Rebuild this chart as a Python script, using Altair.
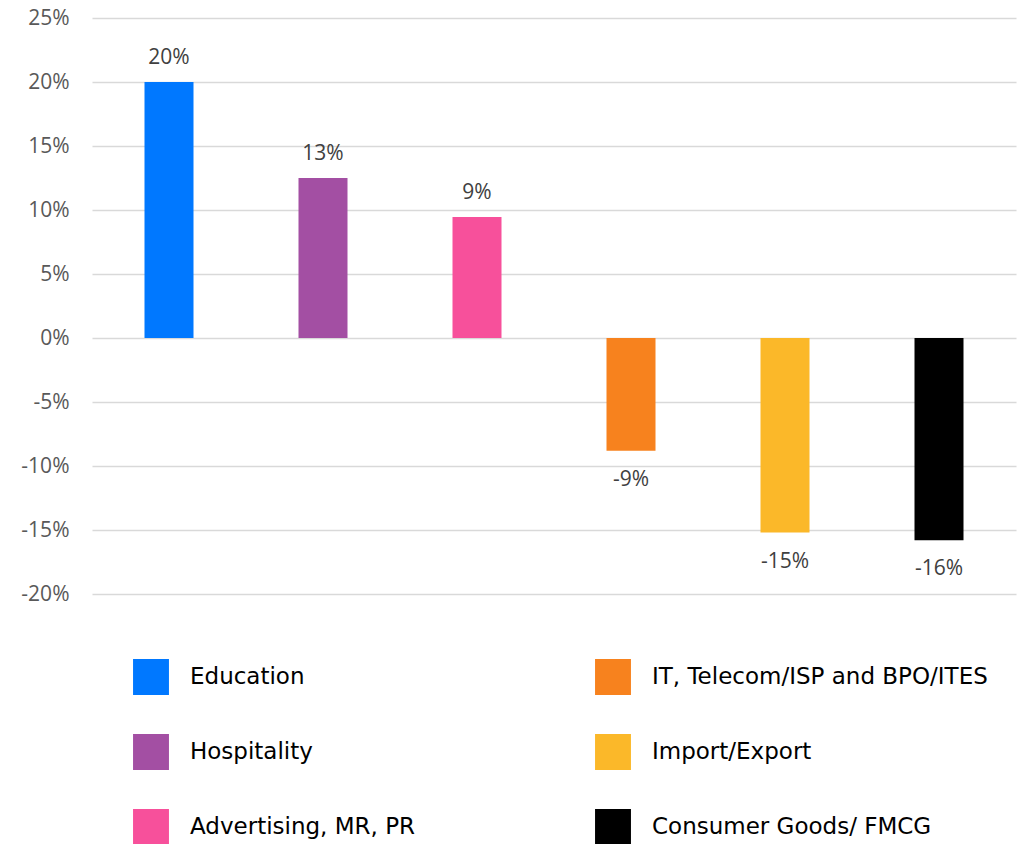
import altair as alt
import pandas as pd

categories = ["Education", "Hospitality", "Advertising, MR, PR",
              "IT, Telecom/ISP and BPO/ITES", "Import/Export", "Consumer Goods/ FMCG"]
values = [0.200, 0.125, 0.0945, -0.088, -0.152, -0.158]
labels = ["20%", "13%", "9%", "-9%", "-15%", "-16%"]
colors = ["#0078FF", "#A34FA3", "#F7509B", "#F7821E", "#FBB829", "#000000"]
y_ticks = [-0.20, -0.15, -0.10, -0.05, 0.0, 0.05, 0.10, 0.15, 0.20, 0.25]

df = pd.DataFrame({"cat": categories, "val": values, "lab": labels})

x_enc = alt.X("cat:N", sort=categories, axis=None,
              scale=alt.Scale(paddingInner=0.682, paddingOuter=0.341))
y_enc = alt.Y("val:Q",
              scale=alt.Scale(domain=[-0.20, 0.25], nice=False, zero=True),
              axis=alt.Axis(values=y_ticks, title=None,
                            labelExpr="round(datum.value * 100) + '%'",
                            domain=False, ticks=False, labelPadding=23,
                            labelFont="Open Sans", labelFontSize=21,
                            labelColor="#595959", gridColor="#D9D9D9",
                            gridWidth=1.3))

bars = alt.Chart(df).mark_bar(size=49).encode(
    x=x_enc,
    y=y_enc,
    color=alt.Color("cat:N",
                    scale=alt.Scale(domain=categories, range=colors),
                    legend=alt.Legend(title=None, orient="none",
                                      legendX=41, legendY=641,
                                      columns=2, columnPadding=179,
                                      rowPadding=39, padding=0,
                                      symbolType="square", symbolSize=1290,
                                      symbolStrokeWidth=0, symbolOpacity=1,
                                      labelFont="DejaVu Sans", labelFontSize=23,
                                      labelColor="#000000", labelOffset=21,
                                      labelLimit=500)),
)

pos_text = alt.Chart(df).transform_filter("datum.val >= 0").mark_text(
    baseline="alphabetic", dy=-18, font="Open Sans", fontSize=21, color="#404040"
).encode(x=alt.X("cat:N", sort=categories, axis=None), y="val:Q", text="lab:N")

neg_text = alt.Chart(df).transform_filter("datum.val < 0").mark_text(
    baseline="alphabetic", dy=35, font="Open Sans", fontSize=21, color="#404040"
).encode(x=alt.X("cat:N", sort=categories, axis=None), y="val:Q", text="lab:N")

chart = alt.layer(bars, pos_text, neg_text).properties(
    width=924, height=576,
    background="white",
    autosize=alt.AutoSizeParams(type="none"),
    padding={"left": 84, "top": 10, "right": 1, "bottom": 250},
).configure_view(strokeWidth=0)

chart.save("out.html", embed_options={"renderer": "svg", "actions": False})
